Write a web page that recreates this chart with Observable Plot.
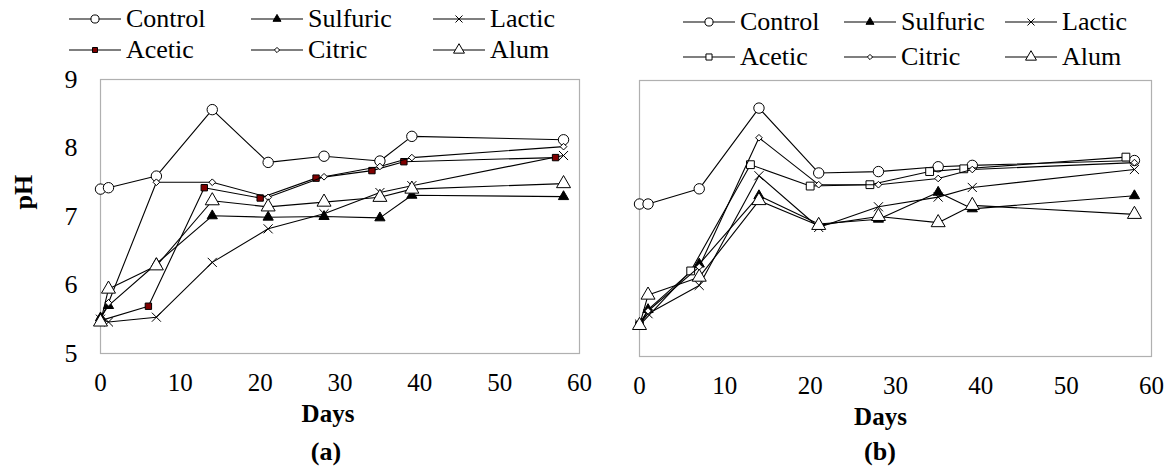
<!DOCTYPE html>
<html><head><meta charset="utf-8">
<script src="https://cdn.jsdelivr.net/npm/d3@7"></script>
<script src="https://cdn.jsdelivr.net/npm/@observablehq/plot@0.6"></script>
<style>
body{margin:0;background:#fff;}
#root{position:relative;width:1173px;height:466px;font-family:'Liberation Serif','Times New Roman',serif;color:#000;overflow:hidden;background:#fff}
.item{position:absolute;display:flex;align-items:center;font-size:26px;line-height:1;white-space:nowrap;transform:translateY(-50%);font-family:'Liberation Serif','Times New Roman',serif}
.item svg{display:block;margin-right:5px}
.cap{position:absolute;font-weight:bold;font-size:26px;transform:translate(-50%,-50%);line-height:1;font-family:'Liberation Serif','Times New Roman',serif}
.panel{position:absolute}
.panel svg{overflow:visible}
.panel svg text{font-family:'Liberation Serif','Times New Roman',serif}
</style></head><body><div id="root"></div>
<script>
// ---- data ----
const seriesNames = ["Control", "Sulfuric", "Lactic", "Acetic", "Citric", "Alum"];
const xTicks = [0, 10, 20, 30, 40, 50, 60];
const yTicks = [5, 6, 7, 8, 9];
const xLabel = "Days";
const yLabel = "pH";
const panelCaptions = ["(a)", "(b)"];

const daysMain = [0, 1, 7, 14, 21, 28, 35, 39, 58];
const daysAcetic = [0, 6, 13, 20, 27, 34, 38, 57];

// panel (a)
const aControl  = [7.40, 7.42, 7.59, 8.56, 7.79, 7.88, 7.81, 8.17, 8.12];
const aSulfuric = [5.52, 5.70, 6.31, 7.01, 6.99, 7.00, 6.98, 7.31, 7.29];
const aLactic   = [5.50, 5.46, 5.53, 6.33, 6.82, 7.04, 7.35, 7.45, 7.89];
const aAcetic   = [5.48, 5.69, 7.42, 7.27, 7.56, 7.67, 7.80, 7.86];
const aCitric   = [5.50, 5.74, 7.50, 7.50, 7.28, 7.58, 7.73, 7.86, 8.02];
const aAlum     = [5.46, 5.94, 6.28, 7.23, 7.14, 7.21, 7.28, 7.40, 7.48];

// panel (b)
const bControl  = [7.21, 7.21, 7.43, 8.60, 7.66, 7.68, 7.75, 7.77, 7.84];
const bSulfuric = [5.46, 5.68, 6.34, 7.33, 6.92, 6.99, 7.38, 7.14, 7.33];
const bLactic   = [5.47, 5.62, 6.03, 7.62, 6.87, 7.17, 7.31, 7.45, 7.71];
const bAcetic   = [5.45, 6.24, 7.78, 7.47, 7.49, 7.68, 7.72, 7.89];
const bCitric   = [5.48, 5.66, 6.30, 8.17, 7.49, 7.49, 7.58, 7.71, 7.81];
const bAlum     = [5.45, 5.89, 6.15, 7.26, 6.90, 7.03, 6.94, 7.19, 7.06];

// ---- styles ----
const markerStyles = {
  a: {
    Control:  {symbol: "circle",   r: 5.2, fill: "white"},
    Sulfuric: {symbol: "triangle", r: 3.8, fill: "black"},
    Lactic:   {symbol: "times",    r: 4.2, fill: "none"},
    Acetic:   {symbol: "square",   r: 3.6, fill: "#800000"},
    Citric:   {symbol: "diamond2", r: 3.0, fill: "white"},
    Alum:     {symbol: "triangle", r: 5.2, fill: "white"}
  },
  b: {
    Control:  {symbol: "circle",   r: 5.2, fill: "white"},
    Sulfuric: {symbol: "triangle", r: 3.8, fill: "black"},
    Lactic:   {symbol: "times",    r: 4.2, fill: "none"},
    Acetic:   {symbol: "square",   r: 4.4, fill: "white"},
    Citric:   {symbol: "diamond2", r: 3.0, fill: "white"},
    Alum:     {symbol: "triangle", r: 5.2, fill: "white"}
  }
};

const FONT = "'Liberation Serif','Times New Roman',serif";

const panels = [
  {key: "a", values: [aControl, aSulfuric, aLactic, aAcetic, aCitric, aAlum],
   left: 0, top: 66, width: 590, height: 370,
   margin: {top: 13, right: 11, bottom: 83, left: 100}, showY: true, daysDx: -12,
   legend: {rows: [19, 50], cols: [69, 251, 433]}, cap: [326, 452]},
  {key: "b", values: [bControl, bSulfuric, bLactic, bAcetic, bCitric, bAlum],
   left: 590, top: 70, width: 583, height: 370,
   margin: {top: 10, right: 22, bottom: 84, left: 49}, showY: false, daysDx: -15,
   legend: {rows: [22, 57], cols: [683, 844, 1005]}, cap: [880, 452]}
];

const root = document.getElementById("root");
const symMap = {circle: d3.symbolCircle, triangle: d3.symbolTriangle, times: d3.symbolTimes, square: d3.symbolSquare, diamond2: d3.symbolDiamond2};

function legendSwatch(st) {
  const ns = "http://www.w3.org/2000/svg";
  const svg = document.createElementNS(ns, "svg");
  svg.setAttribute("width", 52); svg.setAttribute("height", 16);
  const line = document.createElementNS(ns, "line");
  line.setAttribute("x1", 0); line.setAttribute("x2", 52); line.setAttribute("y1", 8); line.setAttribute("y2", 8);
  line.setAttribute("stroke", "black"); line.setAttribute("stroke-width", 1.2);
  svg.appendChild(line);
  const p = document.createElementNS(ns, "path");
  const rr = st.r * 0.78;
  p.setAttribute("d", d3.symbol(symMap[st.symbol], Math.PI * rr * rr)());
  p.setAttribute("transform", "translate(26,8)");
  p.setAttribute("fill", st.fill); p.setAttribute("stroke", "black"); p.setAttribute("stroke-width", 1);
  svg.appendChild(p);
  return svg;
}

for (const P of panels) {
  seriesNames.forEach((name, i) => {
    const row = Math.floor(i / 3), col = i % 3;
    const div = document.createElement("div");
    div.className = "item";
    div.style.left = P.legend.cols[col] + "px";
    div.style.top = P.legend.rows[row] + "px";
    div.appendChild(legendSwatch(markerStyles[P.key][name]));
    const span = document.createElement("span");
    span.textContent = name;
    div.appendChild(span);
    root.appendChild(div);
  });

  const marks = [Plot.frame({stroke: "#b0b0b0", strokeWidth: 1.2})];
  seriesNames.forEach((name, i) => {
    const days = name === "Acetic" ? daysAcetic : daysMain;
    const rows = days.map((d, j) => ({day: d, ph: P.values[i][j], series: name}));
    const st = markerStyles[P.key][name];
    marks.push(Plot.line(rows, {x: "day", y: "ph", stroke: "black", strokeWidth: 1.1}));
    marks.push(Plot.dot(rows, {x: "day", y: "ph", symbol: () => st.symbol, r: st.r, fill: st.fill, stroke: "black", strokeWidth: 1}));
  });
  marks.push(Plot.axisX({ticks: xTicks, tickFormat: d => String(d), tickSize: 0, tickPadding: 20, label: null, fontSize: 25, fontFamily: FONT}));
  if (P.showY) {
    marks.push(Plot.axisY({ticks: yTicks, tickFormat: d => String(d), tickSize: 0, tickPadding: 23, label: null, fontSize: 26, fontFamily: FONT}));
    marks.push(Plot.text([yLabel], {frameAnchor: "left", dx: -77, dy: -7, rotate: -90, fontWeight: "bold", fontSize: 26, fontFamily: FONT}));
  }
  marks.push(Plot.text([xLabel], {frameAnchor: "bottom", dy: 68, dx: P.daysDx, fontWeight: "bold", fontSize: 25, fontFamily: FONT}));

  const chart = Plot.plot({
    width: P.width, height: P.height,
    marginTop: P.margin.top, marginRight: P.margin.right, marginBottom: P.margin.bottom, marginLeft: P.margin.left,
    x: {domain: [0, 60], axis: null},
    y: {domain: [5, 9], axis: null},
    symbol: {type: "identity"},
    style: {fontFamily: FONT, fontSize: "26px", color: "black", background: "transparent"},
    marks
  });
  const wrap = document.createElement("div");
  wrap.className = "panel";
  wrap.style.left = P.left + "px"; wrap.style.top = P.top + "px";
  wrap.appendChild(chart);
  root.appendChild(wrap);

  const cap = document.createElement("div");
  cap.className = "cap";
  cap.style.left = P.cap[0] + "px"; cap.style.top = P.cap[1] + "px";
  cap.textContent = panelCaptions[P.key === "a" ? 0 : 1];
  root.appendChild(cap);
}
</script></body></html>
